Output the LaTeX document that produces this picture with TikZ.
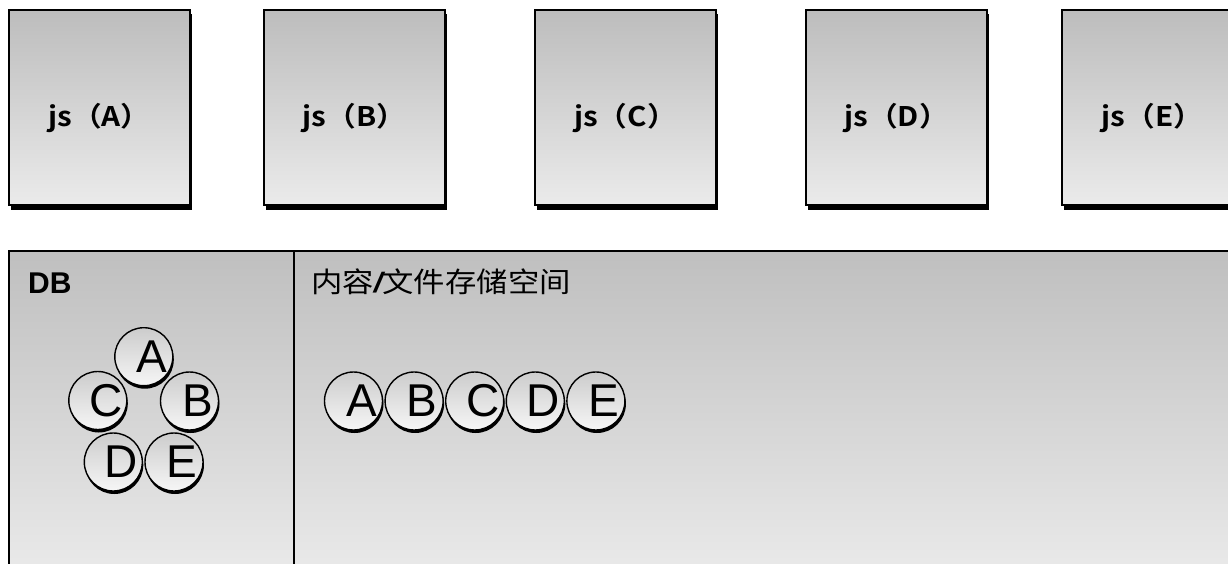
\documentclass[tikz,border=0pt]{standalone}
\usepackage{fontspec}
\setmainfont{Liberation Sans}
\newfontfamily\cjk{Noto Sans CJK SC}
\newfontfamily\cjkbold{Noto Sans CJK SC Bold}
\usetikzlibrary{shadows}
\begin{document}
\begin{tikzpicture}[x=1pt,y=-1pt,
  jsbox/.style={draw=black,line width=1.2pt,minimum width=181pt,minimum height=195pt,inner sep=0pt,
    top color=gray!52,bottom color=gray!16,
    drop shadow={shadow xshift=1.5pt,shadow yshift=-4.5pt,opacity=1,fill=black}},
  jslabel/.style={anchor=base,font=\cjkbold\fontsize{27pt}{27pt}\selectfont,inner sep=0pt},
  ball/.style={circle,draw=black,line width=1.4pt,minimum size=58pt,inner sep=0pt,
    top color=gray!40,bottom color=gray!7,
    font=\fontsize{46pt}{46pt}\selectfont,
    drop shadow={shadow xshift=1pt,shadow yshift=-3pt,opacity=1,fill=black}},
  panel/.style={draw=black,line width=1.4pt,top color=gray!50,bottom color=gray!14}
]
\useasboundingbox (0,0) rectangle (1228,564);
\clip (0,0) rectangle (1228,564);
% top boxes
\foreach \n/\x in {A/99.5,B/354.5,C/625.5,D/896.5,E/1152.5}{
  \node[jsbox] (js\n) at (\x,107.5) {};
  \node[jslabel] (lbl\n) at (\x,127) {\scalebox{1.1}[1]{js（\n）}};
}
% bottom panel
\path[panel] (9,251) rectangle (1240,600);
\coordinate (divtop) at (294,251);
\coordinate (divbot) at (294,600);
\draw[line width=1.2pt] (divtop) -- (divbot);
\node[anchor=base west,inner sep=0pt,font=\bfseries\fontsize{30pt}{30pt}\selectfont] (db) at (28,293) {DB};
\node[anchor=base west,inner sep=0pt,font=\fontsize{28pt}{28pt}\selectfont] (store) at (311,292)
  {\scalebox{1.12}[1]{{\cjk 内容}{\bfseries\itshape /}{\cjk 文件存储空间}}};
% DB balls
\newcommand\balltext[1]{\makebox[0pt]{\hspace{16pt}#1}}
\node[ball] (dA) at (143.8,356.7) {\balltext{A}};
\node[ball] (dC) at (97.8,400.5) {\balltext{C}};
\node[ball] (dB) at (189.5,401) {\balltext{B}};
\node[ball] (dD) at (113.3,462) {\balltext{D}};
\node[ball] (dE) at (174,462) {\balltext{E}};
% storage balls
\foreach \n/\x in {A/353.5,B/414.1,C/474.7,D/535.3,E/595.9}{
  \node[ball] (s\n) at (\x,401) {\balltext{\n}};
}
\end{tikzpicture}
\end{document}
